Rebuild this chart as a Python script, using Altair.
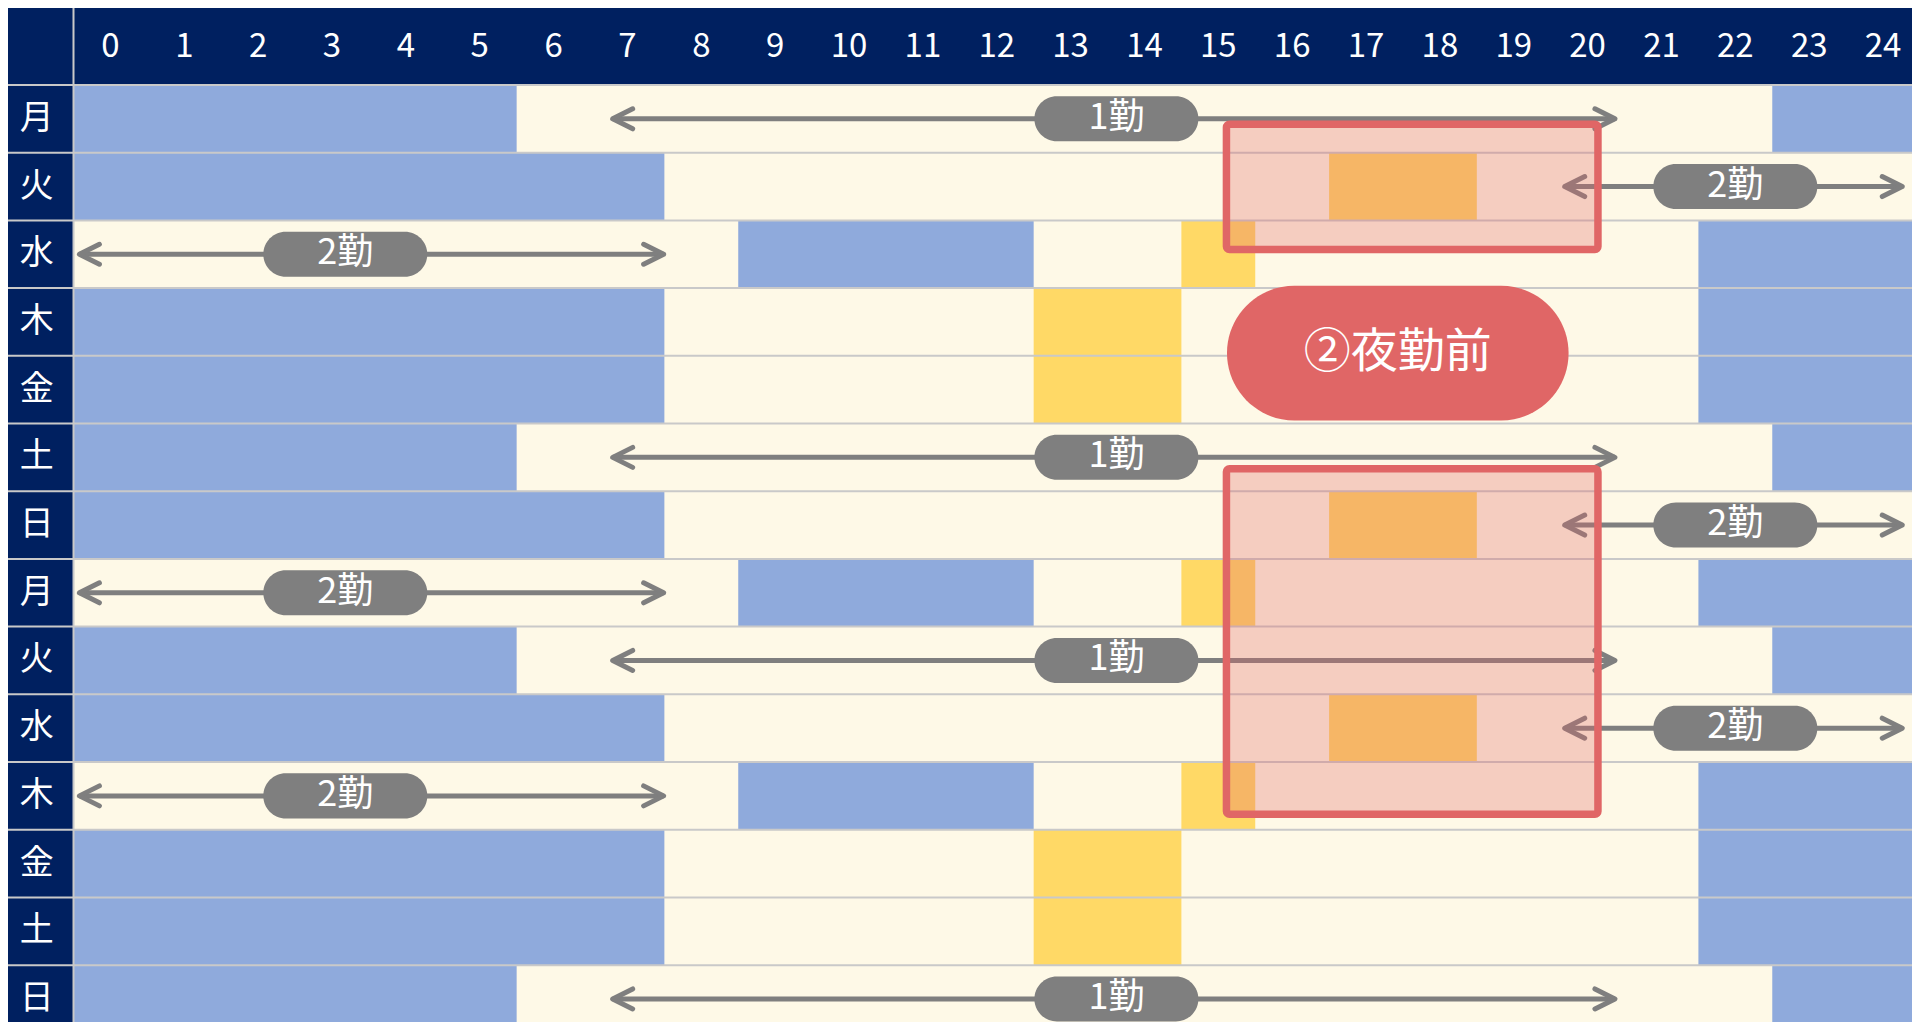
import altair as alt
import pandas as pd

# ---------------- data ----------------
days = ["月", "火", "水", "木", "金", "土", "日", "月", "火", "水", "木", "金", "土", "日"]
row_types = ["1勤", "2勤入", "2勤明", "休", "休", "1勤", "2勤入", "2勤明",
             "1勤", "2勤入", "2勤明", "休", "休", "1勤"]
hours = list(range(25))

# blue blocks (start hour-column, end hour-column) per row type
sleep_blocks = {
    "1勤": [(0, 6), (23, 25)],
    "2勤入": [(0, 8)],
    "2勤明": [(9, 13), (22, 25)],
    "休": [(0, 8), (22, 25)],
}
# yellow blocks per row type
yellow_blocks = {
    "1勤": [],
    "2勤入": [(17, 19)],
    "2勤明": [(15, 16)],
    "休": [(13, 15)],
}
# shift arrows
shift_start = {"1勤": 7.30, "2勤入": 20.19, "2勤明": 0.08}
shift_end = {"1勤": 20.87, "2勤入": 24.76, "2勤明": 7.99}
shift_label_x = {"1勤": 14.12, "2勤入": 22.5, "2勤明": 3.68}
shift_label = {"1勤": "1勤", "2勤入": "2勤", "2勤明": "2勤"}

# highlight boxes
box_x_start = [15.61, 15.61]
box_x_end = [20.64, 20.64]
box_row_start = [0.58, 5.67]
box_row_end = [2.43, 10.77]

# annotation
note_text = ["②夜勤前"]
note_x = [17.93]
note_row = [3.96]

# ---------------- styles / layout ----------------
NAVY = "#002060"
CREAM = "#FEF9E7"
BLUE = "#8FAADC"
YELLOW = "#FFD966"
GREY = "#7F7F7F"
RED = "#E06666"
LINE = "#C9C9C9"
NUM_FONT = "Liberation Sans Narrow, Noto Sans CJK JP, sans-serif"
JP_FONT = "Noto Sans CJK JP, sans-serif"

X_DOMAIN = [-0.8868, 24.892]
Y_DOMAIN = [-1.1374, 13.840]
HEADER_ROW = -0.561
LABEL_COL = -0.4976

xs = alt.Scale(domain=X_DOMAIN, nice=False, zero=False)
ys = alt.Scale(domain=Y_DOMAIN, nice=False, zero=False, reverse=True)

# ---------------- build tables ----------------
cells = []
for i, t in enumerate(row_types):
    cells.append({"row": i, "row2": i + 1, "x": 0, "x2": 25, "kind": "free"})
    for s, e in sleep_blocks[t]:
        cells.append({"row": i, "row2": i + 1, "x": s, "x2": e, "kind": "sleep"})
    for s, e in yellow_blocks[t]:
        cells.append({"row": i, "row2": i + 1, "x": s, "x2": e, "kind": "mark"})
cells_df = pd.DataFrame(cells)

arrows = []
for i, t in enumerate(row_types):
    if t in shift_start:
        arrows.append({"row": i + 0.5, "x": shift_start[t], "x2": shift_end[t],
                       "lx": shift_label_x[t], "label": shift_label[t]})
arrows_df = pd.DataFrame(arrows)

lines_df = pd.DataFrame({"r": list(range(len(days) + 1))})
vline_df = pd.DataFrame({"u": [0]})
boxes_df = pd.DataFrame({"x": box_x_start, "x2": box_x_end,
                         "y": box_row_start, "y2": box_row_end})
note_df = pd.DataFrame({"text": note_text, "x": note_x, "y": note_row})
hours_df = pd.DataFrame({"h": [str(h) for h in hours], "x": [h + 0.5 for h in hours],
                         "y": [HEADER_ROW] * len(hours)})
days_df = pd.DataFrame({"d": days, "x": [LABEL_COL] * len(days),
                        "y": [i + 0.5 for i in range(len(days))]})

# ---------------- marks ----------------
def X(f):
    return alt.X(f, scale=xs, axis=None)

def Y(f):
    return alt.Y(f, scale=ys, axis=None)

cell_layer = alt.Chart(cells_df).mark_rect().encode(
    x=X("x:Q"), x2="x2:Q", y=Y("row:Q"), y2="row2:Q",
    color=alt.Color("kind:N", scale=alt.Scale(domain=["free", "sleep", "mark"],
                                               range=[CREAM, BLUE, YELLOW]), legend=None),
)

row_lines = alt.Chart(lines_df).mark_rule(color=LINE, strokeWidth=2).encode(y=Y("r:Q"))
v_line = alt.Chart(vline_df).mark_rule(color=LINE, strokeWidth=2).encode(x=X("u:Q"))

arrow_lines = alt.Chart(arrows_df).mark_rule(color=GREY, strokeWidth=5).encode(
    x=X("x:Q"), x2="x2:Q", y=Y("row:Q"))

chevron = "M -1 -0.5 L 0 0 L -1 0.5"
head_right = alt.Chart(arrows_df).mark_point(
    shape=chevron, filled=False, size=1600, strokeWidth=5, color=GREY, opacity=1,
    strokeCap="round", strokeJoin="round", angle=0,
).encode(x=X("x2:Q"), y=Y("row:Q"))
head_left = alt.Chart(arrows_df).mark_point(
    shape=chevron, filled=False, size=1600, strokeWidth=5, color=GREY, opacity=1,
    strokeCap="round", strokeJoin="round", angle=180,
).encode(x=X("x:Q"), y=Y("row:Q"))

box_layer = alt.Chart(boxes_df).mark_rect(
    fill=RED, fillOpacity=0.3, stroke=RED, strokeWidth=7.5, cornerRadius=3,
).encode(x=X("x:Q"), x2="x2:Q", y=Y("y:Q"), y2="y2:Q")

pill_small = ("M -0.7256 -0.2744 L 0.7256 -0.2744 A 0.2744 0.2744 0 0 1 0.7256 0.2744 "
              "L -0.7256 0.2744 A 0.2744 0.2744 0 0 1 -0.7256 -0.2744 Z")
pills = alt.Chart(arrows_df).mark_point(
    shape=pill_small, filled=True, size=26896, color=GREY, opacity=1, strokeWidth=0,
).encode(x=X("lx:Q"), y=Y("row:Q"))
pill_text = alt.Chart(arrows_df).mark_text(
    color="white", fontSize=36, font=NUM_FONT, align="center", baseline="middle", dy=-1,
).encode(x=X("lx:Q"), y=Y("row:Q"), text="label:N")

pill_big = ("M -0.6057 -0.3943 L 0.6057 -0.3943 A 0.3943 0.3943 0 0 1 0.6057 0.3943 "
            "L -0.6057 0.3943 A 0.3943 0.3943 0 0 1 -0.6057 -0.3943 Z")
note_bg = alt.Chart(note_df).mark_point(
    shape=pill_big, filled=True, size=116690, color=RED, opacity=1, strokeWidth=0,
).encode(x=X("x:Q"), y=Y("y:Q"))
note_txt = alt.Chart(note_df).mark_text(
    color="white", fontSize=47, font=JP_FONT, align="center", baseline="middle",
).encode(x=X("x:Q"), y=Y("y:Q"), text="text:N")

hour_text = alt.Chart(hours_df).mark_text(
    color="white", fontSize=33, font=NUM_FONT, align="center", baseline="middle",
).encode(x=X("x:Q"), y=Y("y:Q"), text="h:N")
day_text = alt.Chart(days_df).mark_text(
    color="white", fontSize=34, font=JP_FONT, align="center", baseline="middle",
).encode(x=X("x:Q"), y=Y("y:Q"), text="d:N")

chart = alt.layer(
    cell_layer, row_lines, v_line, arrow_lines, head_right, head_left,
    box_layer, pills, pill_text, note_bg, note_txt, hour_text, day_text,
).properties(
    width=1904, height=1014,
    autosize=alt.AutoSizeParams(type="none"),
    padding=0,
    background=NAVY,
).configure_view(stroke="transparent")

chart.save("out.html", embed_options={"renderer": "svg", "actions": False})
